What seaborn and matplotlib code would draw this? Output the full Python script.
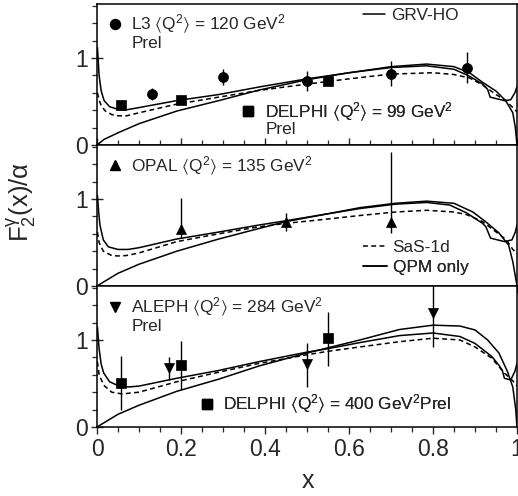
import numpy as np
import pandas as pd
import matplotlib
matplotlib.use("Agg")
import matplotlib.pyplot as plt
import seaborn as sns
from matplotlib.lines import Line2D
from matplotlib.ticker import MultipleLocator, FixedLocator

sns.set_style("ticks")
plt.rcParams.update({
    "font.family": ["Liberation Sans", "DejaVu Sans"],
    "mathtext.fontset": "custom",
    "mathtext.rm": "Liberation Sans",
    "mathtext.it": "Liberation Sans",
    "mathtext.bf": "Liberation Sans:bold",
    "mathtext.sf": "Liberation Sans",
    "mathtext.fallback": "stixsans",
    "axes.linewidth": 1.1,
    "axes.edgecolor": "black",
})

YMAX = 1.62

# ---------------- top panel (L3 120, DELPHI 99) ----------------
grv1_x = [0.001, 0.005, 0.01, 0.017, 0.03, 0.05, 0.065, 0.1, 0.19, 0.29, 0.39, 0.5, 0.6, 0.7, 0.785,
          0.85, 0.887, 0.918, 0.93, 0.936, 0.97, 0.985, 0.995, 1.0]
grv1_y = [1.12, 0.80, 0.62, 0.51, 0.44, 0.41, 0.40, 0.43, 0.51, 0.58, 0.67, 0.76, 0.83, 0.89, 0.91,
          0.87, 0.79, 0.70, 0.64, 0.55, 0.51, 0.52, 0.60, 0.67]
qpm1_x = [0.0, 0.017, 0.05, 0.1, 0.19, 0.29, 0.385, 0.5, 0.6, 0.7, 0.785, 0.85, 0.887, 0.918, 0.95,
          0.973, 0.99, 0.996, 1.0]
qpm1_y = [0.0, 0.065, 0.14, 0.245, 0.39, 0.51, 0.63, 0.75, 0.83, 0.90, 0.93, 0.90, 0.83, 0.72, 0.62,
          0.51, 0.37, 0.20, 0.0]
sas1_x = [0.001, 0.005, 0.01, 0.02, 0.035, 0.05, 0.07, 0.1, 0.19, 0.29, 0.39, 0.5, 0.55, 0.6, 0.7,
          0.8, 0.85, 0.887, 0.918, 0.95, 0.973, 0.99, 1.0]
sas1_y = [0.60, 0.52, 0.45, 0.39, 0.35, 0.335, 0.335, 0.37, 0.47, 0.55, 0.63, 0.70, 0.73, 0.76, 0.815,
          0.83, 0.81, 0.77, 0.69, 0.58, 0.51, 0.43, 0.38]

l3_x = [0.13, 0.30, 0.50, 0.70, 0.88]
l3_y = [0.59, 0.78, 0.735, 0.82, 0.89]
l3_err = [0.07, 0.09, 0.11, 0.14, 0.18]
del99_x = [0.056, 0.20, 0.55]
del99_y = [0.456, 0.52, 0.735]
del99_err = [0.03, 0.02, 0.02]

# ---------------- middle panel (OPAL 135) ----------------
grv2_x = [0.001, 0.004, 0.007, 0.015, 0.027, 0.05, 0.074, 0.1, 0.19, 0.29, 0.385, 0.45, 0.55, 0.626,
          0.71, 0.785, 0.84, 0.88, 0.918, 0.926, 0.937, 0.97, 0.988, 0.996, 1.0]
grv2_y = [1.04, 0.85, 0.70, 0.53, 0.45, 0.42, 0.42, 0.44, 0.54, 0.62, 0.70, 0.75, 0.83, 0.89,
          0.94, 0.96, 0.93, 0.84, 0.72, 0.68, 0.55, 0.51, 0.53, 0.62, 0.70]
qpm2_x = [0.0, 0.05, 0.1, 0.19, 0.29, 0.385, 0.45, 0.55, 0.626, 0.71, 0.785, 0.85, 0.895, 0.925,
          0.957, 0.98, 0.99, 1.0]
qpm2_y = [0.0, 0.146, 0.25, 0.40, 0.54, 0.66, 0.74, 0.83, 0.90, 0.95, 0.975, 0.95, 0.85, 0.74,
          0.61, 0.47, 0.28, 0.0]
sas2_x = [0.001, 0.005, 0.015, 0.035, 0.05, 0.07, 0.1, 0.19, 0.29, 0.385, 0.45, 0.55, 0.626, 0.71,
          0.785, 0.85, 0.88, 0.918, 0.945, 0.975, 0.99, 1.0]
sas2_y = [0.62, 0.50, 0.40, 0.35, 0.345, 0.35, 0.38, 0.51, 0.60, 0.68, 0.72, 0.77, 0.81, 0.85,
          0.87, 0.85, 0.82, 0.74, 0.64, 0.53, 0.42, 0.37]

opal_x = [0.20, 0.45, 0.70]
opal_y = [0.66, 0.74, 0.73]
opal_lo = [0.11, 0.11, 0.12]
opal_hi = [0.35, 0.10, 0.81]

# ---------------- bottom panel (ALEPH 284, DELPHI 400) ----------------
grv3_x = [0.001, 0.005, 0.01, 0.016, 0.03, 0.05, 0.075, 0.1, 0.19, 0.29, 0.385, 0.5, 0.55, 0.626,
          0.72, 0.8, 0.864, 0.9, 0.94, 0.957, 0.965, 0.97, 0.985, 0.995, 1.0]
grv3_y = [1.15, 0.90, 0.72, 0.62, 0.52, 0.475, 0.46, 0.47, 0.56, 0.65, 0.75, 0.86, 0.90, 0.97,
          1.05, 1.08, 1.04, 0.96, 0.81, 0.71, 0.65, 0.56, 0.54, 0.64, 0.73]
qpm3_x = [0.0, 0.05, 0.1, 0.19, 0.29, 0.385, 0.5, 0.55, 0.626, 0.72, 0.8, 0.864, 0.9, 0.93,
          0.957, 0.977, 0.99, 0.997, 1.0]
qpm3_y = [0.0, 0.146, 0.25, 0.41, 0.55, 0.70, 0.85, 0.91, 1.0, 1.12, 1.17, 1.16, 1.115, 1.0,
          0.85, 0.64, 0.46, 0.20, 0.0]
sas3_x = [0.001, 0.005, 0.016, 0.035, 0.06, 0.1, 0.19, 0.29, 0.385, 0.5, 0.55, 0.626, 0.72, 0.8,
          0.864, 0.9, 0.94, 0.97, 0.99, 1.0]
sas3_y = [0.75, 0.60, 0.48, 0.40, 0.38, 0.40, 0.52, 0.63, 0.73, 0.83, 0.87, 0.92, 0.98, 1.02,
          1.0, 0.92, 0.79, 0.62, 0.53, 0.47]

aleph_x = [0.171, 0.50, 0.80]
aleph_y = [0.675, 0.724, 1.31]
aleph_lo = [0.135, 0.26, 0.39]
aleph_hi = [0.135, 0.24, 0.40]
del400_x = [0.056, 0.20, 0.55]
del400_y = [0.50, 0.71, 1.02]
del400_lo = [0.305, 0.28, 0.32]
del400_hi = [0.316, 0.28, 0.305]

x_ticks = [0, 0.2, 0.4, 0.6, 0.8, 1]
x_tick_labels = ["0", "0.2", "0.4", "0.6", "0.8", "1"]
y_ticks = [0, 1]
y_tick_labels = ["0", "1"]

FS_TXT = 12.4
FS_TICK = 16.5
MS = 7.2

fig = plt.figure(figsize=(5.18, 4.96), dpi=100)
L = 97 / 518
W = 420 / 518
H = 141 / 496
ax_top = fig.add_axes([L, (496 - 145) / 496, W, H])
ax_mid = fig.add_axes([L, (496 - 286) / 496, W, H])
ax_bot = fig.add_axes([L, (496 - 427) / 496, W, H])

DASH = (0, (3.2, 2.2))


def curves(ax, gx, gy, qx, qy, sx, sy):
    sns.lineplot(x=gx, y=gy, ax=ax, color="black", lw=1.1, estimator=None, sort=False)
    sns.lineplot(x=qx, y=qy, ax=ax, color="black", lw=1.1, estimator=None, sort=False)
    sns.lineplot(x=sx, y=sy, ax=ax, color="black", lw=1.1, estimator=None, sort=False,
                 linestyle=DASH)


def points(ax, x, y, lo, hi, marker):
    ax.errorbar(x, y, yerr=[lo, hi], fmt="none", ecolor="black", elinewidth=1.0,
                capsize=0, zorder=3)
    sns.scatterplot(x=x, y=y, ax=ax, marker=marker, s=MS ** 2, color="black",
                    edgecolor="black", linewidth=0.5, zorder=4)


def tag(ax, handle, label, x0, yc, hl, pad):
    leg = ax.legend([handle], [label], loc="center left",
                    bbox_to_anchor=(x0, yc / YMAX), frameon=False, borderpad=0,
                    borderaxespad=0, handlelength=hl, handletextpad=pad,
                    fontsize=FS_TXT, numpoints=1)
    ax.add_artist(leg)


def mk(marker):
    return Line2D([], [], marker=marker, color="black", linestyle="none", markersize=MS)


def ln(ls="-"):
    return Line2D([], [], color="black", lw=1.1, linestyle=ls)


for ax in (ax_top, ax_mid, ax_bot):
    ax.set_xlim(0, 1)
    ax.set_ylim(0, YMAX)
    ax.xaxis.set_major_locator(FixedLocator(x_ticks))
    ax.xaxis.set_minor_locator(MultipleLocator(0.05))
    ax.yaxis.set_major_locator(FixedLocator(y_ticks))
    ax.yaxis.set_minor_locator(MultipleLocator(0.2))
    ax.set_yticklabels(y_tick_labels)
    ax.tick_params(axis="y", which="major", direction="inout", length=9, width=1.0,
                   labelsize=FS_TICK, pad=2)
    ax.tick_params(axis="y", which="minor", direction="out", length=3.5, width=0.9)
    ax.tick_params(axis="x", which="major", direction="out", length=5, width=1.0,
                   labelsize=FS_TICK, pad=3)
    ax.tick_params(axis="x", which="minor", direction="out", length=3.5, width=0.9)
    for s in ax.spines.values():
        s.set_linewidth(1.1)
        s.set_visible(True)
    ax.set_xlabel("")
    ax.set_ylabel("")

ax_top.tick_params(axis="x", which="both", direction="in")
ax_top.tick_params(axis="x", labelbottom=False)
ax_mid.tick_params(axis="x", labelbottom=False)
ax_bot.set_xticklabels(x_tick_labels)

# top
curves(ax_top, grv1_x, grv1_y, qpm1_x, qpm1_y, sas1_x, sas1_y)
points(ax_top, l3_x, l3_y, l3_err, l3_err, "o")
points(ax_top, del99_x, del99_y, del99_err, del99_err, "s")
tag(ax_top, mk("o"), r"L3 $\langle$Q$^2\rangle$ = 120 GeV$^2$", 0.022, 1.385, 1.0, 0.45)
ax_top.text(0.083, 1.12, "Prel", fontsize=FS_TXT, va="baseline")
tag(ax_top, ln(), "GRV-HO", 0.634, 1.483, 1.25, 0.35)
tag(ax_top, mk("s"), r"DELPHI $\langle$Q$^2\rangle$ = 99 GeV$^2$", 0.340, 0.38, 1.0, 0.45)
ax_top.text(0.402, 0.125, "Prel", fontsize=FS_TXT, va="baseline")

# middle
curves(ax_mid, grv2_x, grv2_y, qpm2_x, qpm2_y, sas2_x, sas2_y)
points(ax_mid, opal_x, opal_y, opal_lo, opal_hi, "^")
tag(ax_mid, mk("^"), r"OPAL $\langle$Q$^2\rangle$ = 135 GeV$^2$", 0.022, 1.38, 1.0, 0.45)
tag(ax_mid, ln(DASH), "SaS-1d", 0.634, 0.445, 1.35, 0.35)
tag(ax_mid, ln(), "QPM only", 0.634, 0.215, 1.35, 0.35)

# bottom
curves(ax_bot, grv3_x, grv3_y, qpm3_x, qpm3_y, sas3_x, sas3_y)
points(ax_bot, aleph_x, aleph_y, aleph_lo, aleph_hi, "v")
points(ax_bot, del400_x, del400_y, del400_lo, del400_hi, "s")
tag(ax_bot, mk("v"), r"ALEPH $\langle$Q$^2\rangle$ = 284 GeV$^2$", 0.022, 1.37, 1.0, 0.45)
ax_bot.text(0.083, 1.10, "Prel", fontsize=FS_TXT, va="baseline")
tag(ax_bot, mk("s"), r"DELPHI $\langle$Q$^2\rangle$ = 400 GeV$^2$Prel", 0.241, 0.26, 1.0, 0.45)

ax_bot.set_xlabel("x", fontsize=18)
ax_bot.xaxis.set_label_coords(0.502, -0.30)
ax_mid.set_ylabel(r"F$_2^{\gamma}$(x)/$\alpha$", fontsize=18.5)
ax_mid.yaxis.set_label_coords(-0.14, 0.596)

fig.savefig("out.png", dpi=100)
